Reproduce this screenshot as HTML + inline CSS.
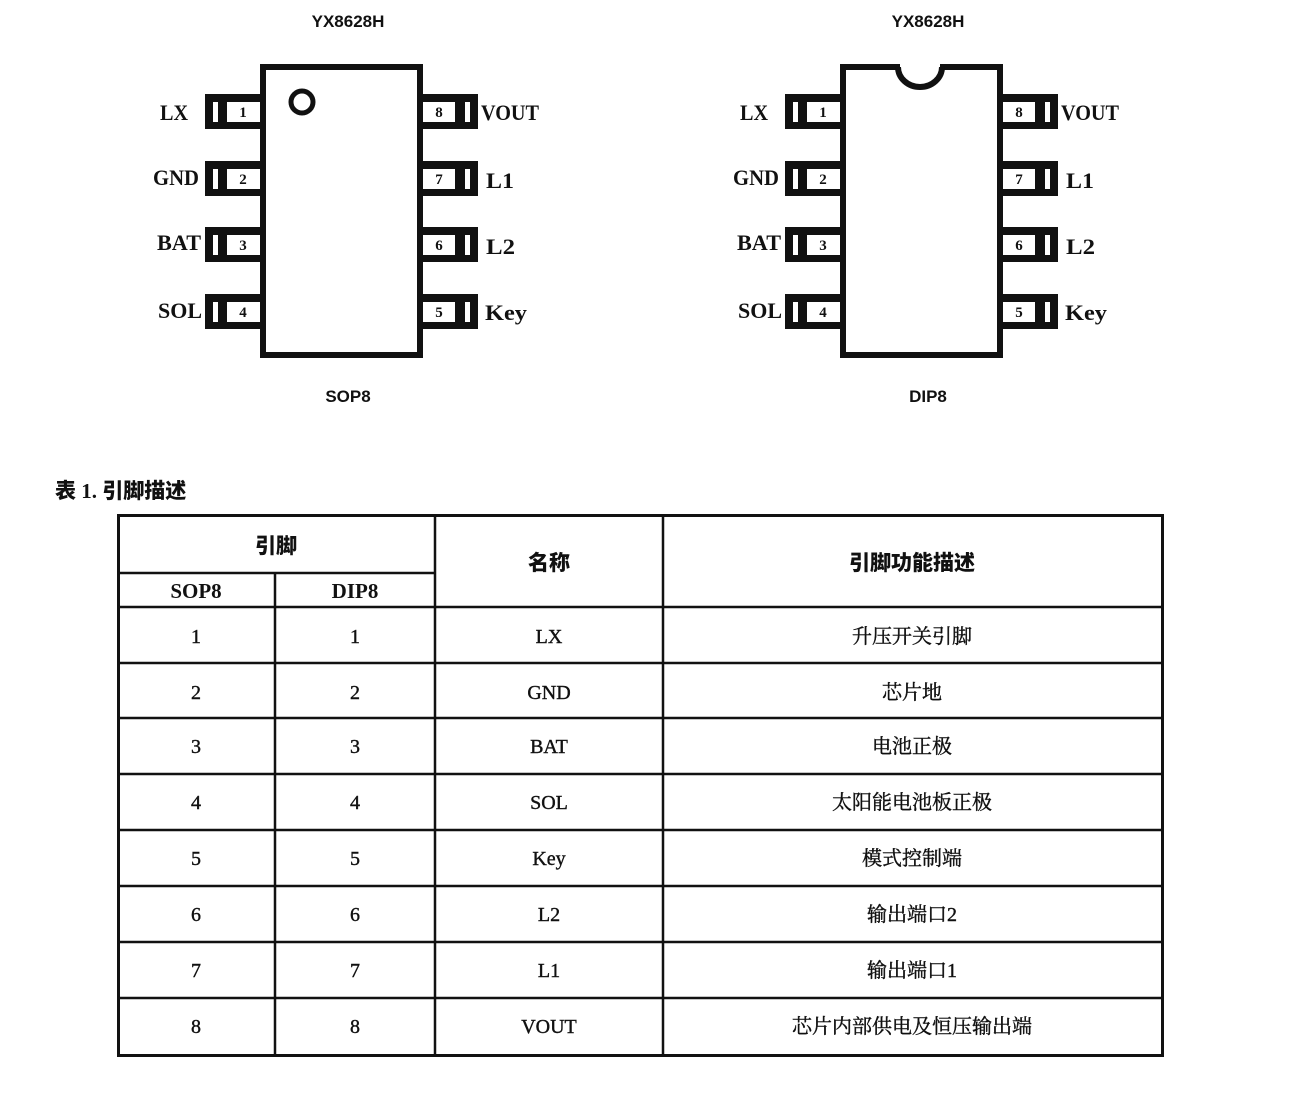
<!DOCTYPE html>
<html><head><meta charset="utf-8"><style>
body{margin:0;background:#fff;}
svg{display:block;}
.lab{font-family:"Liberation Serif",serif;font-weight:bold;font-size:22px;fill:#111;}
.num{font-family:"Liberation Serif",serif;font-weight:bold;font-size:15px;fill:#111;}
.ttl{font-family:"Liberation Sans",sans-serif;font-weight:bold;font-size:17px;fill:#111;}
.tc{font-family:"Liberation Serif","Noto Serif CJK SC",serif;font-size:20px;fill:#111;stroke:#111;stroke-width:0.4;}
.th{font-family:"Liberation Serif","Noto Sans CJK SC",sans-serif;font-weight:900;font-size:21px;fill:#111;}
</style></head><body>
<svg width="1295" height="1111" viewBox="0 0 1295 1111" xmlns="http://www.w3.org/2000/svg">
<defs>
<g id="pl"><rect x="205" y="-17" width="55" height="35" fill="#111"/><rect x="213" y="-9" width="5" height="20" fill="#fff"/><rect x="227" y="-9" width="33" height="20" fill="#fff"/></g>
<g id="pr"><rect x="420" y="-17" width="58" height="35" fill="#111"/><rect x="423" y="-9" width="32" height="20" fill="#fff"/><rect x="465" y="-9" width="5" height="20" fill="#fff"/></g>
<g id="chip">
<rect x="263" y="67" width="157" height="288" fill="#fff" stroke="#111" stroke-width="6"/>
<use href="#pl" y="111"/><use href="#pl" y="178"/><use href="#pl" y="244"/><use href="#pl" y="311"/>
<use href="#pr" y="111"/><use href="#pr" y="178"/><use href="#pr" y="244"/><use href="#pr" y="311"/>
<g class="num" text-anchor="middle">
<text x="243" y="117">1</text><text x="243" y="184">2</text><text x="243" y="250">3</text><text x="243" y="317">4</text>
<text x="439" y="117">8</text><text x="439" y="184">7</text><text x="439" y="250">6</text><text x="439" y="317">5</text>
</g>
<g class="lab" text-anchor="end">
<text x="188" y="120" textLength="28" lengthAdjust="spacingAndGlyphs">LX</text>
<text x="199" y="185" textLength="46" lengthAdjust="spacingAndGlyphs">GND</text>
<text x="201" y="250" textLength="44" lengthAdjust="spacingAndGlyphs">BAT</text>
<text x="202" y="318" textLength="44" lengthAdjust="spacingAndGlyphs">SOL</text>
</g>
<g class="lab">
<text x="481" y="120" textLength="58" lengthAdjust="spacingAndGlyphs">VOUT</text>
<text x="486" y="188" textLength="28" lengthAdjust="spacingAndGlyphs">L1</text>
<text x="486" y="254" textLength="29" lengthAdjust="spacingAndGlyphs">L2</text>
<text x="485" y="320" textLength="42" lengthAdjust="spacingAndGlyphs">Key</text>
</g>
</g>
</defs>
<use href="#chip"/>
<circle cx="302" cy="102" r="11" fill="none" stroke="#111" stroke-width="5"/>
<use href="#chip" x="580"/>
<rect x="900" y="64" width="40" height="6" fill="#fff"/>
<path d="M898 67 A22 20 0 0 0 942 67" fill="#fff" stroke="#111" stroke-width="6"/>
<text class="ttl" x="348" y="27" text-anchor="middle">YX8628H</text>
<text class="ttl" x="928" y="27" text-anchor="middle">YX8628H</text>
<text class="ttl" x="348" y="402" text-anchor="middle">SOP8</text>
<text class="ttl" x="928" y="402" text-anchor="middle">DIP8</text>
<text class="th" x="55" y="498">表 1. 引脚描述</text>
<g stroke="#111" fill="none">
<rect x="118.5" y="515.5" width="1044" height="540" stroke-width="3"/>
<g stroke-width="2.5">
<line x1="118" y1="573" x2="435" y2="573"/>
<line x1="118" y1="607" x2="1162" y2="607"/>
<line x1="118" y1="663" x2="1162" y2="663"/>
<line x1="118" y1="718" x2="1162" y2="718"/>
<line x1="118" y1="774" x2="1162" y2="774"/>
<line x1="118" y1="830" x2="1162" y2="830"/>
<line x1="118" y1="886" x2="1162" y2="886"/>
<line x1="118" y1="942" x2="1162" y2="942"/>
<line x1="118" y1="998" x2="1162" y2="998"/>
<line x1="275" y1="573" x2="275" y2="1056"/>
<line x1="435" y1="515" x2="435" y2="1056"/>
<line x1="663" y1="515" x2="663" y2="1056"/>
</g></g>
<g class="th" text-anchor="middle">
<text x="276" y="553">引脚</text>
<text x="549" y="570">名称</text>
<text x="912" y="570">引脚功能描述</text>
<text x="196" y="598">SOP8</text>
<text x="355" y="598">DIP8</text>
</g>
<g class="tc" text-anchor="middle">
<text x="196" y="643">1</text><text x="355" y="643">1</text><text x="549" y="643">LX</text><text x="912" y="643">升压开关引脚</text>
<text x="196" y="699">2</text><text x="355" y="699">2</text><text x="549" y="699">GND</text><text x="912" y="699">芯片地</text>
<text x="196" y="753">3</text><text x="355" y="753">3</text><text x="549" y="753">BAT</text><text x="912" y="753">电池正极</text>
<text x="196" y="809">4</text><text x="355" y="809">4</text><text x="549" y="809">SOL</text><text x="912" y="809">太阳能电池板正极</text>
<text x="196" y="865">5</text><text x="355" y="865">5</text><text x="549" y="865">Key</text><text x="912" y="865">模式控制端</text>
<text x="196" y="921">6</text><text x="355" y="921">6</text><text x="549" y="921">L2</text><text x="912" y="921">输出端口2</text>
<text x="196" y="977">7</text><text x="355" y="977">7</text><text x="549" y="977">L1</text><text x="912" y="977">输出端口1</text>
<text x="196" y="1033">8</text><text x="355" y="1033">8</text><text x="549" y="1033">VOUT</text><text x="912" y="1033">芯片内部供电及恒压输出端</text>
</g>
</svg>
</body></html>
